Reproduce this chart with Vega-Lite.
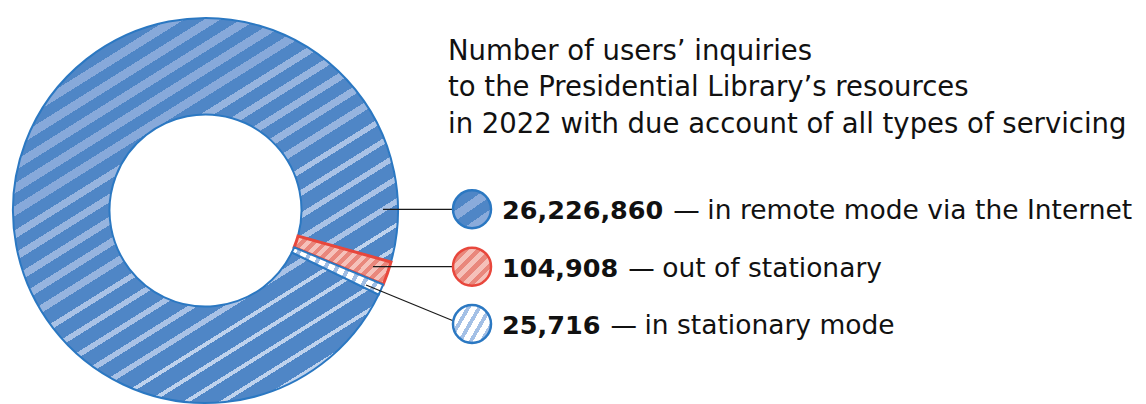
{
  "$schema": "https://vega.github.io/schema/vega-lite/v6.json",
  "padding": {"left": 0, "top": 14, "right": 0, "bottom": 0},
  "autosize": {"type": "pad"},
  "background": "white",
  "config": {"view": {"stroke": null}, "font": "DejaVu Sans"},
  "datasets": {
    "slices": [
      {"cat": "remote", "label": "in remote mode via the Internet", "value": 26226860, "share": 349.6},
      {"cat": "out", "label": "out of stationary", "value": 104908, "share": 7.1},
      {"cat": "stationary", "label": "in stationary mode", "value": 25716, "share": 3.3}
    ],
    "titleLines": [
      {"line": 1, "text": "Number of users’ inquiries"},
      {"line": 2, "text": "to the Presidential Library’s resources"},
      {"line": 3, "text": "in 2022 with due account of all types of servicing"}
    ]
  },
  "data": {"name": "slices"},
  "spacing": 0,
  "bounds": "flush",
  "hconcat": [
    {
      "width": 411,
      "height": 387,
      "mark": {"type": "arc", "radius": 192.5, "radius2": 96, "opacity": 1},
      "encoding": {
        "theta": {"field": "share", "type": "quantitative", "stack": true, "scale": {"domain": [0, 360], "range": [2.0228, 8.306]}},
        "fill": {
          "condition": [
            {"test": "datum.cat === 'remote'", "value": {"gradient": "linear", "x1": 0.1002, "y1": 0.1603, "x2": 0.63, "y2": 1.008, "stops": [
              {"offset": 0, "color": "#4f86c6"}, {"offset": 0.0275, "color": "#4f86c6"}, {"offset": 0.0275, "color": "#87a9da"}, {"offset": 0.05, "color": "#87a9da"},
              {"offset": 0.05, "color": "#4f86c6"}, {"offset": 0.0775, "color": "#4f86c6"}, {"offset": 0.0775, "color": "#87a9da"}, {"offset": 0.1, "color": "#87a9da"},
              {"offset": 0.1, "color": "#4f86c6"}, {"offset": 0.1275, "color": "#4f86c6"}, {"offset": 0.1275, "color": "#87a9da"}, {"offset": 0.15, "color": "#87a9da"},
              {"offset": 0.15, "color": "#4f86c6"}, {"offset": 0.1775, "color": "#4f86c6"}, {"offset": 0.1775, "color": "#87a9da"}, {"offset": 0.2, "color": "#87a9da"},
              {"offset": 0.2, "color": "#4f86c6"}, {"offset": 0.2275, "color": "#4f86c6"}, {"offset": 0.2275, "color": "#87a9da"}, {"offset": 0.25, "color": "#87a9da"},
              {"offset": 0.25, "color": "#4f86c6"}, {"offset": 0.281, "color": "#4f86c6"}, {"offset": 0.281, "color": "#96b4df"}, {"offset": 0.3, "color": "#96b4df"},
              {"offset": 0.3, "color": "#4f86c6"}, {"offset": 0.331, "color": "#4f86c6"}, {"offset": 0.331, "color": "#96b4df"}, {"offset": 0.35, "color": "#96b4df"},
              {"offset": 0.35, "color": "#4f86c6"}, {"offset": 0.381, "color": "#4f86c6"}, {"offset": 0.381, "color": "#96b4df"}, {"offset": 0.4, "color": "#96b4df"},
              {"offset": 0.4, "color": "#4f86c6"}, {"offset": 0.431, "color": "#4f86c6"}, {"offset": 0.431, "color": "#96b4df"}, {"offset": 0.45, "color": "#96b4df"},
              {"offset": 0.45, "color": "#4f86c6"}, {"offset": 0.481, "color": "#4f86c6"}, {"offset": 0.481, "color": "#96b4df"}, {"offset": 0.5, "color": "#96b4df"},
              {"offset": 0.5, "color": "#4f86c6"}, {"offset": 0.536, "color": "#4f86c6"}, {"offset": 0.536, "color": "#a9c2e6"}, {"offset": 0.55, "color": "#a9c2e6"},
              {"offset": 0.55, "color": "#4f86c6"}, {"offset": 0.586, "color": "#4f86c6"}, {"offset": 0.586, "color": "#a9c2e6"}, {"offset": 0.6, "color": "#a9c2e6"},
              {"offset": 0.6, "color": "#4f86c6"}, {"offset": 0.636, "color": "#4f86c6"}, {"offset": 0.636, "color": "#a9c2e6"}, {"offset": 0.65, "color": "#a9c2e6"},
              {"offset": 0.65, "color": "#4f86c6"}, {"offset": 0.686, "color": "#4f86c6"}, {"offset": 0.686, "color": "#a9c2e6"}, {"offset": 0.7, "color": "#a9c2e6"},
              {"offset": 0.7, "color": "#4f86c6"}, {"offset": 0.736, "color": "#4f86c6"}, {"offset": 0.736, "color": "#a9c2e6"}, {"offset": 0.75, "color": "#a9c2e6"},
              {"offset": 0.75, "color": "#4f86c6"}, {"offset": 0.79, "color": "#4f86c6"}, {"offset": 0.79, "color": "#bed2ed"}, {"offset": 0.8, "color": "#bed2ed"},
              {"offset": 0.8, "color": "#4f86c6"}, {"offset": 0.84, "color": "#4f86c6"}, {"offset": 0.84, "color": "#bed2ed"}, {"offset": 0.85, "color": "#bed2ed"},
              {"offset": 0.85, "color": "#4f86c6"}, {"offset": 0.89, "color": "#4f86c6"}, {"offset": 0.89, "color": "#bed2ed"}, {"offset": 0.9, "color": "#bed2ed"},
              {"offset": 0.9, "color": "#4f86c6"}, {"offset": 0.94, "color": "#4f86c6"}, {"offset": 0.94, "color": "#bed2ed"}, {"offset": 0.95, "color": "#bed2ed"},
              {"offset": 0.95, "color": "#4f86c6"}, {"offset": 0.99, "color": "#4f86c6"}, {"offset": 0.99, "color": "#bed2ed"}, {"offset": 1, "color": "#bed2ed"}
            ]}},
            {"test": "datum.cat === 'out'", "value": {"gradient": "linear", "x1": 0, "y1": 0, "x2": 1.2006, "y2": 0.595, "stops": [
              {"offset": 0, "color": "#e9877c"}, {"offset": 0.04, "color": "#e9877c"}, {"offset": 0.04, "color": "#f5c1ba"}, {"offset": 0.08, "color": "#f5c1ba"},
              {"offset": 0.08, "color": "#e9877c"}, {"offset": 0.12, "color": "#e9877c"}, {"offset": 0.12, "color": "#f5c1ba"}, {"offset": 0.16, "color": "#f5c1ba"},
              {"offset": 0.16, "color": "#e9877c"}, {"offset": 0.2, "color": "#e9877c"}, {"offset": 0.2, "color": "#f5c1ba"}, {"offset": 0.24, "color": "#f5c1ba"},
              {"offset": 0.24, "color": "#e9877c"}, {"offset": 0.28, "color": "#e9877c"}, {"offset": 0.28, "color": "#f5c1ba"}, {"offset": 0.32, "color": "#f5c1ba"},
              {"offset": 0.32, "color": "#e9877c"}, {"offset": 0.36, "color": "#e9877c"}, {"offset": 0.36, "color": "#f5c1ba"}, {"offset": 0.4, "color": "#f5c1ba"},
              {"offset": 0.4, "color": "#e9877c"}, {"offset": 0.44, "color": "#e9877c"}, {"offset": 0.44, "color": "#f5c1ba"}, {"offset": 0.48, "color": "#f5c1ba"},
              {"offset": 0.48, "color": "#e9877c"}, {"offset": 0.52, "color": "#e9877c"}, {"offset": 0.52, "color": "#f5c1ba"}, {"offset": 0.56, "color": "#f5c1ba"},
              {"offset": 0.56, "color": "#e9877c"}, {"offset": 0.6, "color": "#e9877c"}, {"offset": 0.6, "color": "#f5c1ba"}, {"offset": 0.64, "color": "#f5c1ba"},
              {"offset": 0.64, "color": "#e9877c"}, {"offset": 0.68, "color": "#e9877c"}, {"offset": 0.68, "color": "#f5c1ba"}, {"offset": 0.72, "color": "#f5c1ba"},
              {"offset": 0.72, "color": "#e9877c"}, {"offset": 0.76, "color": "#e9877c"}, {"offset": 0.76, "color": "#f5c1ba"}, {"offset": 0.8, "color": "#f5c1ba"},
              {"offset": 0.8, "color": "#e9877c"}, {"offset": 0.84, "color": "#e9877c"}, {"offset": 0.84, "color": "#f5c1ba"}, {"offset": 0.88, "color": "#f5c1ba"},
              {"offset": 0.88, "color": "#e9877c"}, {"offset": 0.92, "color": "#e9877c"}, {"offset": 0.92, "color": "#f5c1ba"}, {"offset": 0.96, "color": "#f5c1ba"},
              {"offset": 0.96, "color": "#e9877c"}, {"offset": 1, "color": "#e9877c"}
            ]}}
          ],
          "value": {"gradient": "linear", "x1": 0, "y1": 0, "x2": 1.191, "y2": 0.354, "stops": [
            {"offset": 0, "color": "#ffffff"}, {"offset": 0.06, "color": "#ffffff"}, {"offset": 0.06, "color": "#9fbde4"}, {"offset": 0.1, "color": "#9fbde4"},
            {"offset": 0.1, "color": "#ffffff"}, {"offset": 0.16, "color": "#ffffff"}, {"offset": 0.16, "color": "#9fbde4"}, {"offset": 0.2, "color": "#9fbde4"},
            {"offset": 0.2, "color": "#ffffff"}, {"offset": 0.26, "color": "#ffffff"}, {"offset": 0.26, "color": "#9fbde4"}, {"offset": 0.3, "color": "#9fbde4"},
            {"offset": 0.3, "color": "#ffffff"}, {"offset": 0.36, "color": "#ffffff"}, {"offset": 0.36, "color": "#9fbde4"}, {"offset": 0.4, "color": "#9fbde4"},
            {"offset": 0.4, "color": "#ffffff"}, {"offset": 0.46, "color": "#ffffff"}, {"offset": 0.46, "color": "#9fbde4"}, {"offset": 0.5, "color": "#9fbde4"},
            {"offset": 0.5, "color": "#ffffff"}, {"offset": 0.56, "color": "#ffffff"}, {"offset": 0.56, "color": "#9fbde4"}, {"offset": 0.6, "color": "#9fbde4"},
            {"offset": 0.6, "color": "#ffffff"}, {"offset": 0.66, "color": "#ffffff"}, {"offset": 0.66, "color": "#9fbde4"}, {"offset": 0.7, "color": "#9fbde4"},
            {"offset": 0.7, "color": "#ffffff"}, {"offset": 0.76, "color": "#ffffff"}, {"offset": 0.76, "color": "#9fbde4"}, {"offset": 0.8, "color": "#9fbde4"},
            {"offset": 0.8, "color": "#ffffff"}, {"offset": 0.86, "color": "#ffffff"}, {"offset": 0.86, "color": "#9fbde4"}, {"offset": 0.9, "color": "#9fbde4"},
            {"offset": 0.9, "color": "#ffffff"}, {"offset": 0.96, "color": "#ffffff"}, {"offset": 0.96, "color": "#9fbde4"}, {"offset": 1, "color": "#9fbde4"}
          ]}
        },
        "stroke": {"condition": {"test": "datum.cat === 'out'", "value": "#e8473c"}, "value": "#2b78c2"},
        "strokeWidth": {"condition": {"test": "datum.cat === 'out'", "value": 3}, "value": 2}
      }
    },
    {
      "width": 735,
      "height": 387,
      "resolve": {"scale": {"y": "independent"}},
      "layer": [
        {
          "data": {"name": "titleLines"},
          "mark": {"type": "text", "align": "left", "baseline": "alphabetic", "fontSize": 27.5, "color": "#111111"},
          "encoding": {
            "x": {"value": 37},
            "y": {"field": "line", "type": "ordinal", "axis": null, "scale": {"type": "point", "range": [42.5, 115.5], "padding": 0}},
            "text": {"field": "text"}
          }
        },
        {
          "layer": [
            {
              "transform": [{"filter": "datum.cat === 'remote'"}],
              "mark": {"type": "rule", "color": "#1a1a1a", "strokeWidth": 1.2},
              "encoding": {
                "y": {"field": "cat", "type": "nominal", "axis": null, "scale": {"type": "point", "domain": ["remote", "out", "stationary"], "range": [192.3, 307], "padding": 0}},
                "x": {"value": -28},
                "x2": {"value": 45}
              }
            },
            {
              "transform": [{"filter": "datum.cat === 'out'"}],
              "mark": {"type": "rule", "color": "#1a1a1a", "strokeWidth": 1.2},
              "encoding": {
                "y": {"field": "cat", "type": "nominal", "axis": null},
                "x": {"value": -38},
                "x2": {"value": 45}
              }
            },
            {
              "transform": [{"filter": "datum.cat === 'stationary'"}],
              "mark": {"type": "rule", "color": "#1a1a1a", "strokeWidth": 1.2},
              "encoding": {
                "y": {"field": "cat", "type": "nominal", "axis": null},
                "y2": {"value": 268},
                "x2": {"value": -45},
                "x": {"value": 50}
              }
            },
            {
              "mark": {"type": "point", "shape": "circle", "filled": true, "size": 1444, "opacity": 1},
              "encoding": {
                "y": {"field": "cat", "type": "nominal", "axis": null},
                "x": {"value": 61},
                "fill": {
                  "condition": [
                    {"test": "datum.cat === 'remote'", "value": {"gradient": "linear", "x1": 0.1128, "y1": 0.1609, "x2": 0.6868, "y2": 0.98, "stops": [
                      {"offset": 0, "color": "#4f86c6"}, {"offset": 0.275, "color": "#4f86c6"}, {"offset": 0.275, "color": "#8aabdb"}, {"offset": 0.5, "color": "#8aabdb"},
                      {"offset": 0.5, "color": "#4f86c6"}, {"offset": 0.775, "color": "#4f86c6"}, {"offset": 0.775, "color": "#8aabdb"}, {"offset": 1, "color": "#8aabdb"}
                    ]}},
                    {"test": "datum.cat === 'out'", "value": {"gradient": "linear", "x1": 0.1464, "y1": 0.1464, "x2": 0.8536, "y2": 0.8536, "stops": [
                      {"offset": 0, "color": "#e9877c"}, {"offset": 0.125, "color": "#e9877c"}, {"offset": 0.125, "color": "#f5c1ba"}, {"offset": 0.25, "color": "#f5c1ba"},
                      {"offset": 0.25, "color": "#e9877c"}, {"offset": 0.375, "color": "#e9877c"}, {"offset": 0.375, "color": "#f5c1ba"}, {"offset": 0.5, "color": "#f5c1ba"},
                      {"offset": 0.5, "color": "#e9877c"}, {"offset": 0.625, "color": "#e9877c"}, {"offset": 0.625, "color": "#f5c1ba"}, {"offset": 0.75, "color": "#f5c1ba"},
                      {"offset": 0.75, "color": "#e9877c"}, {"offset": 0.875, "color": "#e9877c"}, {"offset": 0.875, "color": "#f5c1ba"}, {"offset": 1, "color": "#f5c1ba"}
                    ]}}
                  ],
                  "value": {"gradient": "linear", "x1": 0.1585, "y1": 0.0915, "x2": 1.0245, "y2": 0.5915, "stops": [
                    {"offset": 0, "color": "#ffffff"}, {"offset": 0.15, "color": "#ffffff"}, {"offset": 0.15, "color": "#a3c0e6"}, {"offset": 0.25, "color": "#a3c0e6"},
                    {"offset": 0.25, "color": "#ffffff"}, {"offset": 0.4, "color": "#ffffff"}, {"offset": 0.4, "color": "#a3c0e6"}, {"offset": 0.5, "color": "#a3c0e6"},
                    {"offset": 0.5, "color": "#ffffff"}, {"offset": 0.65, "color": "#ffffff"}, {"offset": 0.65, "color": "#a3c0e6"}, {"offset": 0.75, "color": "#a3c0e6"},
                    {"offset": 0.75, "color": "#ffffff"}, {"offset": 0.9, "color": "#ffffff"}, {"offset": 0.9, "color": "#a3c0e6"}, {"offset": 1, "color": "#a3c0e6"}
                  ]}
                },
                "stroke": {"condition": {"test": "datum.cat === 'out'", "value": "#e8473c"}, "value": "#2b78c2"},
                "strokeWidth": {"value": 2.5}
              }
            },
            {
              "mark": {"type": "text", "align": "left", "baseline": "alphabetic", "dy": 10, "fontSize": 25.5, "fontWeight": "bold", "color": "#111111"},
              "encoding": {
                "y": {"field": "cat", "type": "nominal", "axis": null},
                "x": {"value": 91},
                "text": {"field": "value", "type": "quantitative", "format": ","}
              }
            },
            {
              "mark": {"type": "text", "align": "left", "baseline": "alphabetic", "dy": 10, "fontSize": 26.5, "color": "#111111",
                "dx": {"expr": "25.5*(0.696*length(toString(datum.value))+0.38*floor((length(toString(datum.value))-1)/3))+10"}},
              "encoding": {
                "y": {"field": "cat", "type": "nominal", "axis": null},
                "x": {"value": 91},
                "text": {"value": "—"}
              }
            },
            {
              "mark": {"type": "text", "align": "left", "baseline": "alphabetic", "dy": 10, "fontSize": 26.5, "color": "#111111",
                "dx": {"expr": "25.5*(0.696*length(toString(datum.value))+0.38*floor((length(toString(datum.value))-1)/3))+44"}},
              "encoding": {
                "y": {"field": "cat", "type": "nominal", "axis": null},
                "x": {"value": 91},
                "text": {"field": "label"}
              }
            }
          ]
        }
      ]
    }
  ]
}
